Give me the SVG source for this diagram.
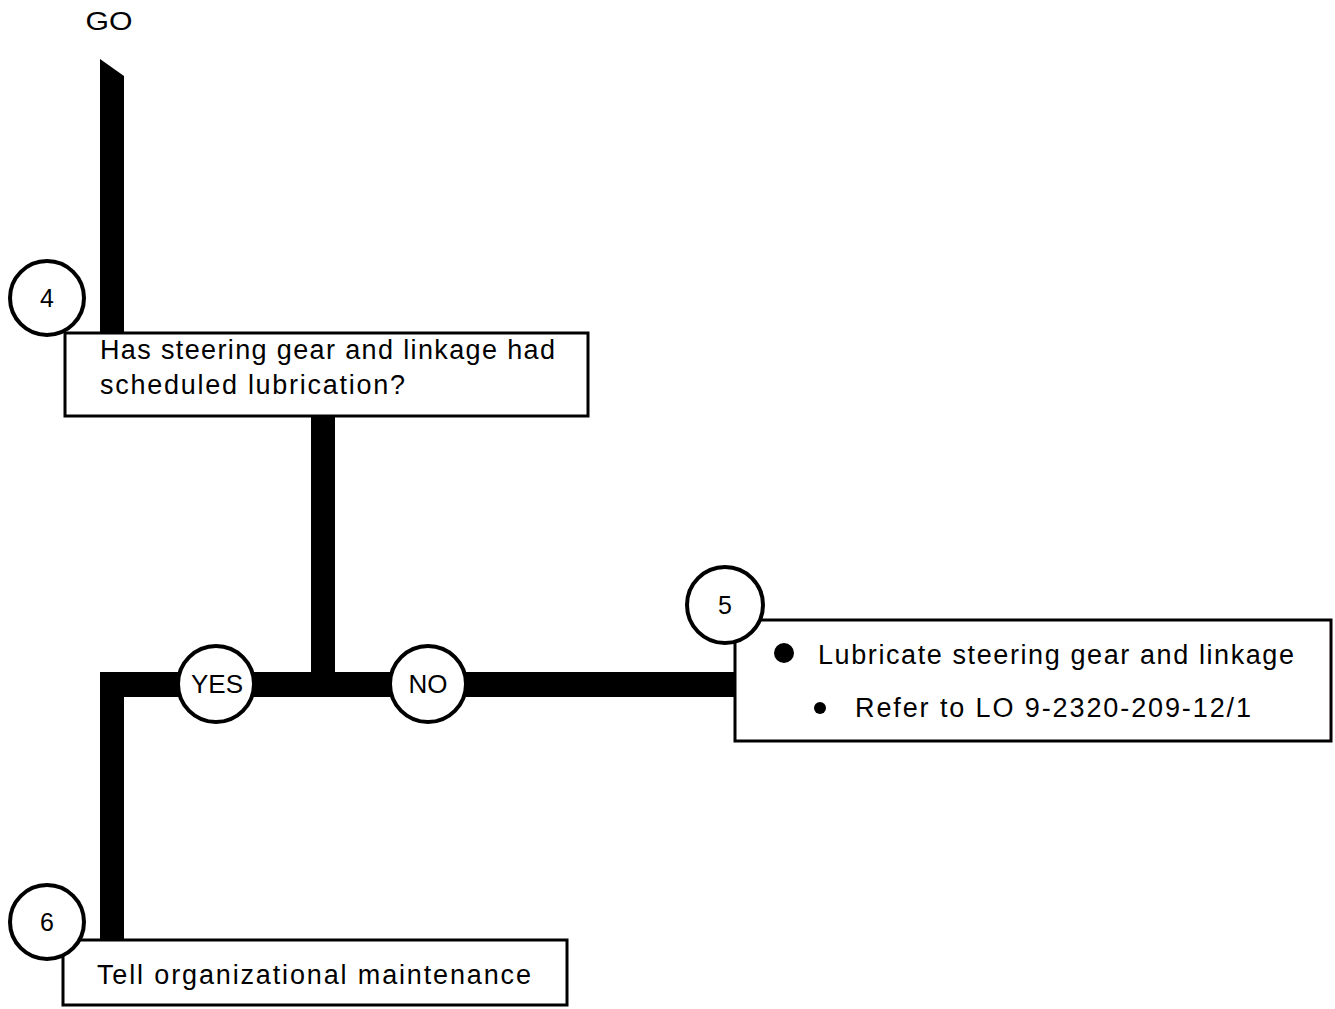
<svg xmlns="http://www.w3.org/2000/svg" width="1335" height="1009" viewBox="0 0 1335 1009">
<style>
.box{fill:#fff;stroke:#000;stroke-width:3}
.circ{fill:#fff;stroke:#000;stroke-width:4}
.t{font-family:"Liberation Sans",Arial,sans-serif;font-size:27px;fill:#000}
.n{font-family:"Liberation Sans",Arial,sans-serif;font-size:25px;fill:#000;text-anchor:middle}
.yn{font-family:"Liberation Sans",Arial,sans-serif;font-size:26px;fill:#000;text-anchor:middle}
.bar{fill:#000}
</style>
<rect width="1335" height="1009" fill="#fff"/>
<text class="n" x="109" y="30" textLength="47" lengthAdjust="spacingAndGlyphs">GO</text>
<g id="connectors">
<polygon class="bar" points="100,59 124,76 124,335 100,335"/>
<rect class="bar" x="311" y="414" width="24" height="270"/>
<rect class="bar" x="100" y="672" width="637" height="25"/>
<rect class="bar" x="100" y="672" width="24" height="270"/>
</g>
<g id="node4">
<rect class="box" x="65" y="333" width="523" height="83"/>
<circle class="circ" cx="47" cy="298" r="37"/>
<text class="n" x="47" y="307">4</text>
<text class="t" x="100" y="359" textLength="455" lengthAdjust="spacing">Has steering gear and linkage had</text>
<text class="t" x="100" y="394" textLength="305" lengthAdjust="spacing">scheduled lubrication?</text>
</g>
<g id="yes">
<circle class="circ" cx="216" cy="684" r="38"/>
<text class="yn" x="217" y="693">YES</text>
</g>
<g id="no">
<circle class="circ" cx="428" cy="684" r="38"/>
<text class="yn" x="428" y="693">NO</text>
</g>
<g id="node5">
<rect class="box" x="735" y="620" width="596" height="121"/>
<circle class="circ" cx="725" cy="605" r="38"/>
<text class="n" x="725" y="614">5</text>
<circle cx="784" cy="653" r="10" fill="#000"/>
<text class="t" x="818" y="664" textLength="476" lengthAdjust="spacing">Lubricate steering gear and linkage</text>
<circle cx="820" cy="708" r="6" fill="#000"/>
<text class="t" x="855" y="717" textLength="396" lengthAdjust="spacing">Refer to LO 9-2320-209-12/1</text>
</g>
<g id="node6">
<rect class="box" x="63" y="940" width="504" height="65"/>
<circle class="circ" cx="47" cy="922" r="37"/>
<text class="n" x="47" y="931">6</text>
<text class="t" x="97" y="984" textLength="434" lengthAdjust="spacing">Tell organizational maintenance</text>
</g>
</svg>
